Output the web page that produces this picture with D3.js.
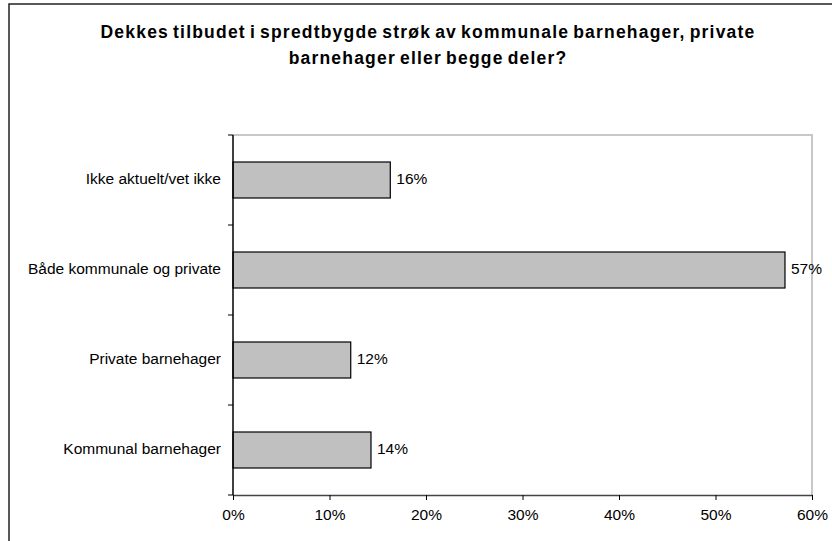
<!DOCTYPE html>
<html>
<head>
<meta charset="utf-8">
<script src="https://cdn.jsdelivr.net/npm/d3@7"></script>
<style>
  body { margin: 0; background: #fff; }
  svg { display: block; font-family: "Liberation Sans", Arial, sans-serif; }
  .bar-label, .bar-cat, .tick-label { font-size: 15.5px; fill: #000; }
  .title { font-size: 17.5px; font-weight: bold; fill: #000; letter-spacing: 1.2px; word-spacing: -2px; }
</style>
</head>
<body>
<svg id="chart" width="832" height="541"></svg>
<script>
// data, top to bottom as drawn
const categories = ["Ikke aktuelt/vet ikke", "Både kommunale og private", "Private barnehager", "Kommunal barnehager"];
const values = [0.163, 0.572, 0.122, 0.143];
const valueLabels = ["16%", "57%", "12%", "14%"];
const tickValues = [0, 0.1, 0.2, 0.3, 0.4, 0.5, 0.6];
const titleLines = ["Dekkes tilbudet i spredtbygde strøk av kommunale barnehager, private", "barnehager eller begge deler?"];

const dims = { width: 832, height: 541, margin: { top: 135, right: 20, bottom: 46, left: 233 } };
const svg = d3.select("#chart");

// outer frame
svg.append("rect")
  .attr("x", 9).attr("y", 4)
  .attr("width", 840).attr("height", 560)
  .attr("fill", "none")
  .attr("stroke", "#222")
  .attr("stroke-width", 1.5);

// title
svg.append("g")
  .selectAll("text")
  .data(titleLines)
  .enter()
  .append("text")
    .attr("class", "title")
    .attr("x", 428)
    .attr("y", (d, i) => 38 + i * 26)
    .attr("text-anchor", "middle")
    .text(d => d);

const x = d3.scaleLinear()
  .domain([0, 0.6])
  .range([dims.margin.left, dims.width - dims.margin.right]);

const y = d3.scaleBand()
  .domain(categories)
  .range([dims.margin.top, dims.height - dims.margin.bottom])
  .paddingInner(0.6)
  .paddingOuter(0.3);

const plotTop = dims.margin.top, plotBottom = dims.height - dims.margin.bottom;

// plot area border (light gray top + right)
svg.append("path")
  .attr("d", `M${x(0)},${plotTop}H${x(0.6)}V${plotBottom}`)
  .attr("fill", "none")
  .attr("stroke", "#c8c8c8")
  .attr("stroke-width", 2);

// bars
let groups = svg.append("g")
  .selectAll("g")
  .data(categories)
  .enter()
    .append("g");

groups.append("rect")
  .attr("fill", "#c0c0c0")
  .attr("stroke", "#000")
  .attr("stroke-width", 1.2)
  .attr("x", x(0))
  .attr("y", d => y(d))
  .attr("width", (d, i) => x(values[i]) - x(0))
  .attr("height", y.bandwidth());

groups.append("text")
  .attr("class", "bar-label")
  .attr("x", (d, i) => x(values[i]) + 6)
  .attr("y", d => y(d) + y.bandwidth() / 2)
  .attr("dominant-baseline", "middle")
  .text((d, i) => valueLabels[i]);

groups.append("text")
  .attr("class", "bar-cat")
  .attr("x", x(0) - 12)
  .attr("y", d => y(d) + y.bandwidth() / 2)
  .attr("dominant-baseline", "middle")
  .attr("text-anchor", "end")
  .text(d => d);

// left axis with separators between categories
const step = (plotBottom - plotTop) / categories.length;
const sepY = d3.range(categories.length + 1).map(i => plotTop + i * step);
const axisG = svg.append("g").attr("stroke", "#000");
axisG.append("line")
  .attr("x1", x(0)).attr("x2", x(0))
  .attr("y1", plotTop).attr("y2", plotBottom)
  .attr("stroke-width", 1.5);
axisG.selectAll(".ytick")
  .data(sepY)
  .enter()
  .append("line")
    .attr("x1", x(0) - 5).attr("x2", x(0))
    .attr("y1", d => d).attr("y2", d => d);

// bottom axis
const xAxis = svg.append("g")
  .attr("transform", `translate(0,${plotBottom})`)
  .call(d3.axisBottom(x).tickValues(tickValues).tickFormat(d3.format(".0%")).tickSize(5).tickSizeOuter(0));
xAxis.select(".domain").attr("stroke", "#444").attr("stroke-width", 1.5);
xAxis.selectAll(".tick line").attr("stroke", "#000");
xAxis.selectAll(".tick text")
  .attr("class", "tick-label")
  .attr("font-family", null)
  .attr("font-size", null)
  .attr("dy", "0.71em")
  .attr("y", 14);
</script>
</body>
</html>
